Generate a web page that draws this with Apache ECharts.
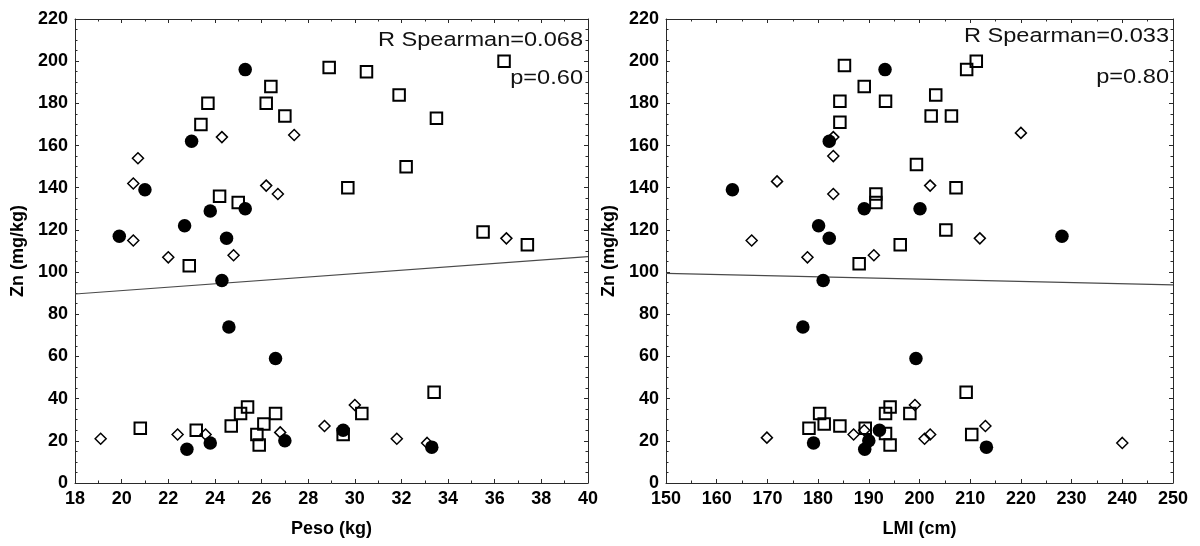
<!DOCTYPE html>
<html>
<head>
<meta charset="utf-8">
<script src="https://cdn.jsdelivr.net/npm/echarts@6/dist/echarts.min.js"></script>
<style>
html, body { margin: 0; padding: 0; background: #fff; }
#chart { width: 1200px; height: 546px; }
</style>
</head>
<body>
<div id="chart"></div>
<script>
// Zn (mg/kg) against body weight (Peso, kg) and LMI (cm), three groups per panel.

// Peso panel: [Peso, Zn]
const pesoCircles = [
  [19.9, 117], [25.3, 196], [23.0, 162], [21.0, 139], [23.8, 129], [25.3, 130],
  [22.7, 122], [24.5, 116], [24.3, 96], [24.6, 74], [26.6, 59], [22.8, 16],
  [23.8, 19], [27.0, 20], [29.5, 25], [33.3, 17]
];
const pesoSquares = [
  [26.4, 188], [26.2, 180], [23.7, 180], [27.0, 174], [23.4, 170], [24.2, 136],
  [25.0, 133], [22.9, 103], [28.9, 197], [30.5, 195], [36.4, 200], [31.9, 184],
  [33.5, 173], [32.2, 150], [29.7, 140], [35.5, 119], [37.4, 113], [20.8, 26],
  [23.2, 25], [24.7, 27], [25.1, 33], [25.4, 36], [25.8, 23], [25.9, 18],
  [26.1, 28], [26.6, 33], [29.5, 23], [30.3, 33], [33.4, 43]
];
const pesoDiamonds = [
  [20.7, 154], [20.5, 142], [20.5, 115], [24.3, 164], [27.4, 165], [26.2, 141],
  [26.7, 137], [22.0, 107], [24.8, 108], [36.5, 116], [19.1, 21], [22.4, 23],
  [23.6, 23], [26.8, 24], [28.7, 27], [30.0, 37], [31.8, 21], [33.1, 19]
];
const pesoFit = [[18, 89.6], [40, 107.3]];
const pesoStats = ['R Spearman=0.068', 'p=0.60'];

// LMI panel: [LMI, Zn]
const lmiCircles = [
  [193.2, 196], [182.2, 162], [163.1, 139], [189.1, 130], [180.1, 122], [182.2, 116],
  [200.1, 130], [228.1, 117], [181.0, 96], [177.0, 74], [179.1, 19], [189.2, 16],
  [190.0, 20], [192.1, 25], [199.3, 59], [213.2, 17]
];
const lmiSquares = [
  [185.2, 198], [189.1, 188], [184.3, 181], [193.3, 181], [184.3, 171], [191.4, 137],
  [191.4, 133], [188.1, 104], [196.2, 113], [211.2, 200], [209.3, 196], [203.2, 184],
  [202.3, 174], [206.3, 174], [199.4, 151], [207.2, 140], [205.2, 120], [178.2, 26],
  [180.3, 33], [181.2, 28], [184.3, 27], [189.3, 26], [193.3, 33], [194.2, 36],
  [193.3, 23.5], [194.2, 18], [198.1, 33], [209.2, 43], [210.3, 23]
];
const lmiDiamonds = [
  [183.0, 164], [183.0, 155], [171.9, 143], [183.0, 137], [166.9, 115], [177.9, 107],
  [191.0, 108], [220.0, 166], [202.1, 141], [211.9, 116], [169.9, 21.5], [187.0, 23],
  [189.1, 25], [199.1, 37], [201.0, 21], [202.1, 23], [213.0, 27], [240.0, 19]
];
const lmiFit = [[150, 99.4], [250, 93.9]];
const lmiStats = ['R Spearman=0.033', 'p=0.80'];

// Axis ranges [min, max, interval] and titles
const pesoRange = [18, 40, 2];
const lmiRange = [150, 250, 10];
const znRange = [0, 220, 20];
const pesoTitle = 'Peso (kg)';
const lmiTitle = 'LMI (cm)';
const znTitle = 'Zn (mg/kg)';

const FONT = '"Liberation Sans", Arial, sans-serif';
const INK = '#000';
const FRAME = '#2a2a2a';

function frameAxis(opts) {
  const base = {
    type: 'value',
    gridIndex: opts.grid,
    min: opts.range[0],
    max: opts.range[1],
    interval: opts.range[2],
    position: opts.position,
    axisLine: { show: true, onZero: false, lineStyle: { color: FRAME, width: 1 } },
    axisTick: { show: true, inside: true, length: 4, lineStyle: { color: FRAME, width: 1 } },
    minorTick: { show: true, splitNumber: opts.minor, length: 2.5, lineStyle: { color: FRAME, width: 1 } },
    splitLine: { show: false },
    minorSplitLine: { show: false },
    axisLabel: { show: false },
    silent: true
  };
  if (opts.labels) {
    base.axisLabel = {
      show: true, fontFamily: FONT, fontWeight: 'bold', fontSize: 18, color: INK, margin: 7,
      showMinLabel: true, showMaxLabel: true, hideOverlap: false
    };
  }
  if (opts.name) {
    base.name = opts.name;
    base.nameLocation = 'middle';
    base.nameGap = opts.nameGap;
    base.nameTextStyle = { fontFamily: FONT, fontWeight: 'bold', fontSize: 18, color: INK };
  }
  return base;
}

const xAxes = [
  frameAxis({ grid: 0, range: pesoRange, position: 'bottom', minor: 2, labels: true, name: pesoTitle, nameGap: 37 }),
  frameAxis({ grid: 0, range: pesoRange, position: 'top', minor: 2 }),
  frameAxis({ grid: 1, range: lmiRange, position: 'bottom', minor: 2, labels: true, name: lmiTitle, nameGap: 37 }),
  frameAxis({ grid: 1, range: lmiRange, position: 'top', minor: 2 })
];
const yAxes = [
  frameAxis({ grid: 0, range: znRange, position: 'left', minor: 4, labels: true, name: znTitle, nameGap: 48 }),
  frameAxis({ grid: 0, range: znRange, position: 'right', minor: 4 }),
  frameAxis({ grid: 1, range: znRange, position: 'left', minor: 4, labels: true, name: znTitle, nameGap: 48 }),
  frameAxis({ grid: 1, range: znRange, position: 'right', minor: 4 })
];

function squareSeries(data, xi, yi) {
  return {
    type: 'scatter', data, xAxisIndex: xi, yAxisIndex: yi,
    symbol: 'rect', symbolSize: 11.5, z: 3,
    itemStyle: { color: 'rgba(0,0,0,0)', borderColor: INK, borderWidth: 2, opacity: 1 }
  };
}
function diamondSeries(data, xi, yi) {
  return {
    type: 'scatter', data, xAxisIndex: xi, yAxisIndex: yi,
    symbol: 'diamond', symbolSize: [11, 11], z: 4,
    itemStyle: { color: 'rgba(0,0,0,0)', borderColor: INK, borderWidth: 1.5, opacity: 1 }
  };
}
function circleSeries(data, xi, yi) {
  return {
    type: 'scatter', data, xAxisIndex: xi, yAxisIndex: yi,
    symbol: 'circle', symbolSize: 13.5, z: 5,
    itemStyle: { color: INK, borderWidth: 0, opacity: 1 }
  };
}
function fitSeries(data, xi, yi) {
  return {
    type: 'line', data, xAxisIndex: xi, yAxisIndex: yi,
    showSymbol: false, symbol: 'none', z: 2, silent: true,
    lineStyle: { color: '#4a4a4a', width: 1.2 }
  };
}

function statsText(lines, right, ys) {
  return lines.map((t, i) => ({
    type: 'text',
    x: right,
    y: ys[i],
    scaleX: 1.15,
    silent: true,
    style: {
      text: t, fontFamily: FONT, fontSize: 20.5, fill: '#111',
      align: 'right', verticalAlign: 'middle'
    }
  }));
}

const chart = echarts.init(document.getElementById('chart'), null, { renderer: 'canvas' });
chart.setOption({
  animation: false,
  backgroundColor: '#fff',
  grid: [
    { left: 75, top: 19, width: 513, height: 464, outerBoundsMode: 'none', containLabel: false },
    { left: 666, top: 19, width: 507, height: 464, outerBoundsMode: 'none', containLabel: false }
  ],
  xAxis: xAxes,
  yAxis: yAxes,
  tooltip: { show: false },
  series: [
    fitSeries(pesoFit, 0, 0),
    squareSeries(pesoSquares, 0, 0),
    diamondSeries(pesoDiamonds, 0, 0),
    circleSeries(pesoCircles, 0, 0),
    fitSeries(lmiFit, 2, 2),
    squareSeries(lmiSquares, 2, 2),
    diamondSeries(lmiDiamonds, 2, 2),
    circleSeries(lmiCircles, 2, 2)
  ],
  graphic: [
    ...statsText(pesoStats, 583, [40, 78]),
    ...statsText(lmiStats, 1169, [36, 77])
  ]
});
</script>
</body>
</html>
